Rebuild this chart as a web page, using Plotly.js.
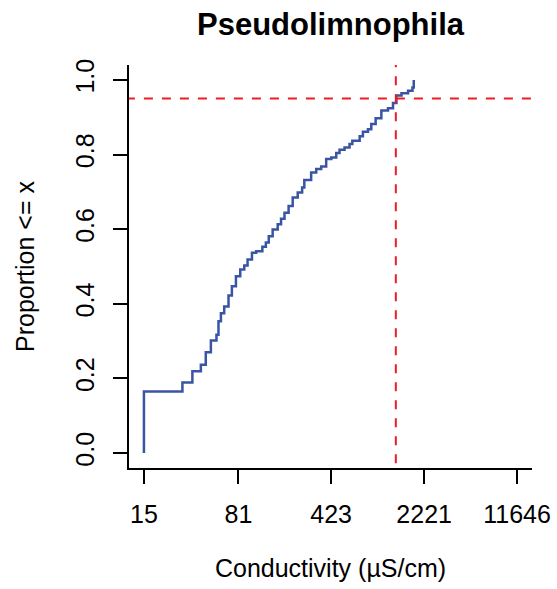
<!DOCTYPE html>
<html>
<head>
<meta charset="utf-8">
<script src="https://cdn.plot.ly/plotly-3.0.1.min.js"></script>
<style>html,body{margin:0;padding:0;background:#fff;} #chart{width:557px;height:589px;}</style>
</head>
<body>
<div id="chart"></div>
<script>
// ECDF step corners (conductivity in µS/cm, cumulative proportion)
const conductivity = [15, 15, 29.8, 35.6, 41.4, 45.2, 49.5, 54.7, 56.7, 59.2, 62.8, 67.8, 72.0, 77.4, 83.6, 89.8, 95.2, 103, 111, 124, 132, 139, 149, 163, 173, 184, 198, 213, 233, 252, 262, 296, 324, 354, 387, 424, 463, 491, 537, 587, 617, 703, 745, 815, 865, 935, 1035, 1165, 1274, 1355, 1482, 1667, 1803, 1845];
const proportion   = [0, 0.165, 0.189, 0.219, 0.237, 0.270, 0.302, 0.317, 0.353, 0.375, 0.393, 0.422, 0.447, 0.474, 0.492, 0.503, 0.519, 0.537, 0.541, 0.553, 0.564, 0.581, 0.599, 0.613, 0.628, 0.644, 0.662, 0.685, 0.698, 0.712, 0.732, 0.752, 0.761, 0.768, 0.788, 0.792, 0.804, 0.813, 0.819, 0.828, 0.837, 0.849, 0.861, 0.868, 0.882, 0.897, 0.918, 0.924, 0.938, 0.958, 0.964, 0.971, 0.980, 1.0];

const xTickVals = [15, 81, 423, 2221, 11646];
const xTickText = ['15', '81', '423', '2221', '11646'];
const yTickVals = [0, 0.2, 0.4, 0.6, 0.8, 1.0];
const yTickText = ['0.0', '0.2', '0.4', '0.6', '0.8', '1.0'];

const thresholdX = 1340;   // 95th percentile conductivity
const thresholdY = 0.95;

const titleText = 'Pseudolimnophila';
const xTitle = 'Conductivity (µS/cm)';
const yTitle = 'Proportion <= x';

const lo = Math.log10(xTickVals[0]);
const hi = Math.log10(xTickVals[xTickVals.length - 1]);
const pad = 0.04 * (hi - lo);
const xRange = [lo - pad, hi + pad];
const yRange = [-0.04, 1.04];

const font = 'Liberation Sans, Arial, Helvetica, sans-serif';
const red = '#ee1c25';

const traces = [
  {
    x: conductivity, y: proportion, type: 'scatter', mode: 'lines',
    line: {shape: 'hv', color: '#3a54a4', width: 2.5},
    hoverinfo: 'skip', showlegend: false
  },
  {
    x: [Math.pow(10, xRange[0] - 1), Math.pow(10, xRange[1] + 1)], y: [thresholdY, thresholdY],
    type: 'scatter', mode: 'lines',
    line: {color: red, width: 2, dash: '9px,9px'},
    hoverinfo: 'skip', showlegend: false
  },
  {
    x: [thresholdX, thresholdX], y: [yRange[0] - 1, yRange[1] + 1],
    type: 'scatter', mode: 'lines',
    line: {color: red, width: 2, dash: '9px,9px'},
    hoverinfo: 'skip', showlegend: false
  }
];

const layout = {
  width: 557, height: 589,
  margin: {l: 129, r: 25, t: 65, b: 121, pad: 0},
  paper_bgcolor: '#fff', plot_bgcolor: '#fff',
  font: {family: font, color: '#000', size: 25},
  title: {
    text: '<b>' + titleText + '</b>',
    font: {family: font, size: 31, color: '#000'},
    x: 0.5, xref: 'paper', xanchor: 'center',
    y: 1 - 24 / 589, yref: 'container', yanchor: 'middle'
  },
  xaxis: {
    type: 'log', range: xRange, autorange: false,
    tickmode: 'array', tickvals: xTickVals, ticktext: xTickText,
    ticks: 'outside', ticklen: 14, tickwidth: 2, tickcolor: '#000',
    showline: true, linecolor: '#000', linewidth: 2, mirror: false,
    showgrid: false, zeroline: false,
    tickfont: {family: font, size: 25, color: '#000'},
    ticklabelstandoff: 9,
    title: {text: xTitle, font: {family: font, size: 25, color: '#000'}, standoff: 32},
    automargin: false
  },
  yaxis: {
    range: yRange, autorange: false,
    tickmode: 'array', tickvals: yTickVals, ticktext: yTickText,
    tickangle: -90,
    ticks: 'outside', ticklen: 14, tickwidth: 2, tickcolor: '#000',
    showline: true, linecolor: '#000', linewidth: 2, mirror: false,
    showgrid: false, zeroline: false,
    tickfont: {family: font, size: 25, color: '#000'},
    ticklabelstandoff: 9,
    title: {text: yTitle, font: {family: font, size: 25, color: '#000'}, standoff: 29},
    automargin: false
  }
};

Plotly.newPlot('chart', traces, layout, {displayModeBar: false, staticPlot: true});
</script>
</body>
</html>
